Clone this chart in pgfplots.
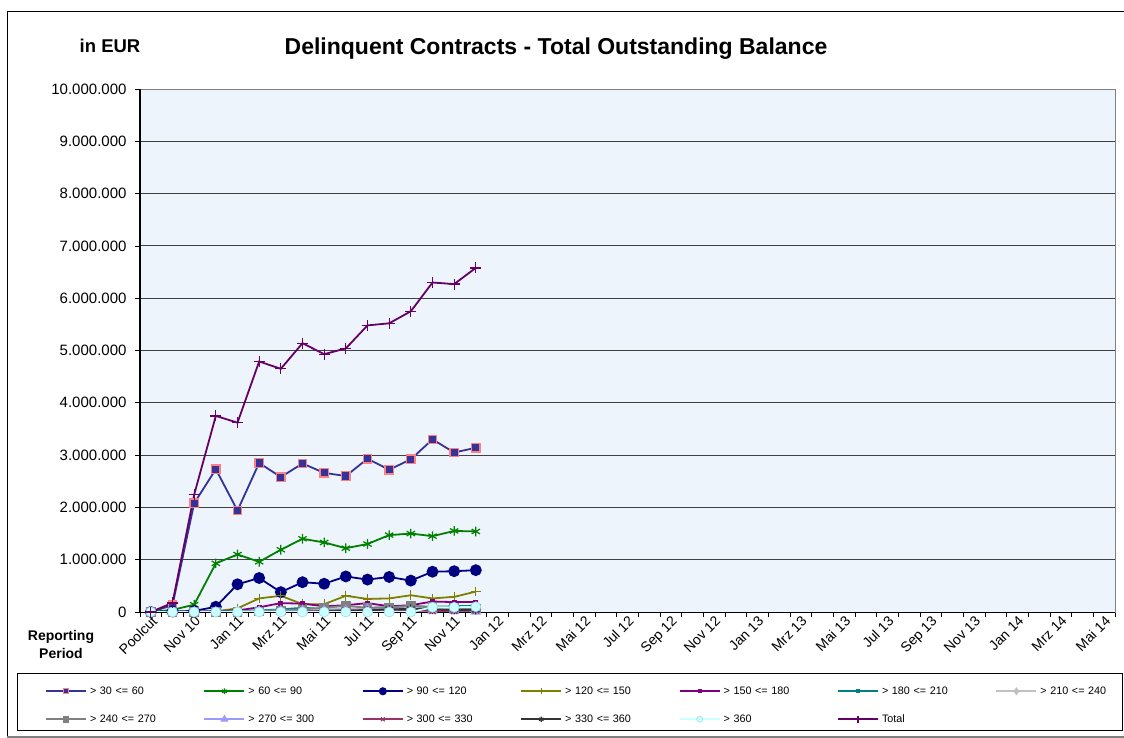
\documentclass[border=0pt]{standalone}
\usepackage{pgfplots}
\pgfplotsset{compat=1.18}
\usepackage{pgfplotstable}
\usepackage{fontspec}
\setmainfont{Liberation Sans}
\definecolor{bgblue}{RGB}{237,244,251}
\definecolor{cA}{HTML}{333399}
\definecolor{cAb}{HTML}{FF8080}
\definecolor{cB}{HTML}{008000}
\definecolor{cC}{HTML}{000080}
\definecolor{cD}{HTML}{808000}
\definecolor{cE}{HTML}{800080}
\definecolor{cF}{HTML}{008080}
\definecolor{cG}{HTML}{C0C0C0}
\definecolor{cH}{HTML}{808080}
\definecolor{cI}{HTML}{9999FF}
\definecolor{cJ}{HTML}{993366}
\definecolor{cK}{HTML}{333333}
\definecolor{cL}{HTML}{CCFFFF}
\definecolor{cLb}{HTML}{99DDEE}
\definecolor{cT}{HTML}{660066}

\pgfplotstableread{
idx s1 s2 s3 s4 s5 s6 s7 s8 s9 s10 s11 s12 tot
0 0 0 0 0 0 0 0 0 0 0 0 0 0
1 130000 40000 10000 0 0 0 0 0 0 0 0 0 175000
2 2080000 140000 20000 0 5000 0 0 0 0 0 0 0 2245000
3 2730000 930000 100000 10000 20000 10000 0 0 0 0 0 0 3750000
4 1940000 1100000 530000 70000 30000 20000 10000 0 0 0 0 0 3620000
5 2850000 960000 650000 260000 90000 30000 20000 10000 0 0 0 0 4790000
6 2580000 1190000 380000 310000 170000 50000 30000 30000 10000 0 0 0 4650000
7 2840000 1400000 570000 150000 160000 80000 40000 50000 20000 10000 0 0 5140000
8 2660000 1330000 540000 150000 110000 60000 60000 80000 20000 20000 10000 0 4930000
9 2600000 1220000 680000 310000 130000 50000 70000 120000 30000 30000 20000 0 5040000
10 2930000 1300000 620000 250000 170000 80000 50000 80000 50000 40000 30000 0 5480000
11 2720000 1470000 670000 260000 110000 90000 60000 90000 40000 50000 50000 0 5520000
12 2920000 1500000 600000 320000 130000 70000 80000 120000 30000 30000 60000 0 5750000
13 3300000 1450000 770000 260000 200000 100000 60000 100000 30000 20000 50000 90000 6300000
14 3050000 1550000 780000 290000 190000 110000 70000 80000 20000 20000 40000 90000 6270000
15 3140000 1540000 800000 390000 190000 120000 60000 70000 10000 30000 40000 100000 6580000
}\datatable

\begin{document}
\begin{tikzpicture}
\useasboundingbox (0pt,0pt) rectangle (1124pt,-738pt);
\fill[white] (0pt,0pt) rectangle (1124pt,-738pt);
\draw[black, line width=1pt] (7pt,-736pt) -- (7pt,-12pt) -- (1124pt,-12pt);
\draw[gray, line width=2pt] (7pt,-736.5pt) -- (1124pt,-736.5pt);
\draw[black, line width=1pt] (17pt,-673pt) rectangle (1122.5pt,-730pt);
\node[font=\bfseries\fontsize{23}{26}\selectfont] at (556pt,-49pt) {Delinquent Contracts - Total Outstanding Balance};
\node[font=\bfseries\fontsize{18.5}{21}\selectfont] at (110pt,-46pt) {in EUR};
\node[font=\bfseries\fontsize{14}{18}\selectfont, align=center] at (61pt,-644pt) {Reporting\\Period};
\begin{axis}[
  at={(140pt,-612pt)}, anchor=south west,
  scale only axis, width=975pt, height=523pt,
  xmin=-0.5, xmax=44.5, ymin=0, ymax=10000000,
  axis background/.style={fill=bgblue},
  axis line style={draw=gray, line width=1pt},
  ytick={0,1000000,2000000,3000000,4000000,5000000,6000000,7000000,8000000,9000000,10000000},
  ymajorgrids, grid style={black!75, line width=0.9pt},
  scaled y ticks=false,
  /pgf/number format/assume math mode=true,
  yticklabel style={font=\fontsize{15}{18}\selectfont, xshift=-5pt, /pgf/number format/fixed, /pgf/number format/precision=0, /pgf/number format/1000 sep={.}},
  tick align=outside, major tick length=5pt, tick style={black, line width=0.8pt},
  tick pos=left,
  xtick={-0.5,0.5,...,44.5}, xticklabels={},
  extra x ticks={0,2,...,44},
  extra x tick labels={Poolcut,Nov 10,Jan 11,Mrz 11,Mai 11,Jul 11,Sep 11,Nov 11,Jan 12,Mrz 12,Mai 12,Jul 12,Sep 12,Nov 12,Jan 13,Mrz 13,Mai 13,Jul 13,Sep 13,Nov 13,Jan 14,Mrz 14,Mai 14},
  extra x tick style={major tick length=0pt},
  xticklabel style={font=\fontsize{14}{16}\selectfont, rotate=45, anchor=north east, inner sep=2pt},
  clip=false,
  legend image code/.code={\draw[mark repeat=2,mark phase=2,#1, line width=2pt, every mark/.append style={scale=0.6}] plot coordinates {(0pt,0pt) (20pt,0pt) (40pt,0pt)};},
  legend columns=7,
  legend cell align=left,
  legend style={at={(-0.0974,-0.1396)}, anchor=north west, draw=none, fill=none, inner sep=0pt, outer sep=0pt, row sep=15.5pt,
    nodes={font=\fontsize{10.8}{13}\selectfont, text width=109.4pt, inner sep=1pt, text height=8pt, text depth=2.5pt, align=left},
    /tikz/every odd column/.append style={column sep=2pt},
    /tikz/every even column/.append style={column sep=3pt}},
]
\addplot[cA, line width=1.8pt, mark=square*, mark size=4.2pt, mark options={fill=cA, draw=cAb, line width=1.3pt}] table[x=idx, y=s1] {\datatable};
\addlegendentry{> 30 <= 60}
\addplot[cB, line width=1.8pt, mark=asterisk, mark size=4.8pt, mark options={line width=1.2pt}] table[x=idx, y=s2] {\datatable};
\addlegendentry{> 60 <= 90}
\addplot[cC, line width=1.8pt, mark=*, mark size=5pt] table[x=idx, y=s3] {\datatable};
\addlegendentry{> 90 <= 120}
\addplot[cD, line width=1.8pt, mark=+, mark size=4.8pt, mark options={line width=1.2pt}] table[x=idx, y=s4] {\datatable};
\addlegendentry{> 120 <= 150}
\addplot[cE, line width=1.8pt, mark=square*, mark size=1.6pt] table[x=idx, y=s5] {\datatable};
\addlegendentry{> 150 <= 180}
\addplot[cF, line width=1.8pt, mark=square*, mark size=1.6pt] table[x=idx, y=s6] {\datatable};
\addlegendentry{> 180 <= 210}
\addplot[cG, line width=1.8pt, mark=diamond*, mark size=4pt] table[x=idx, y=s7] {\datatable};
\addlegendentry{> 210 <= 240}
\addplot[cH, line width=1.8pt, mark=square*, mark size=3.8pt] table[x=idx, y=s8] {\datatable};
\addlegendentry{> 240 <= 270}
\addplot[cI, line width=1.8pt, mark=triangle*, mark size=4.4pt] table[x=idx, y=s9] {\datatable};
\addlegendentry{> 270 <= 300}
\addplot[cJ, line width=1.8pt, mark=x, mark size=4.4pt, mark options={line width=1.2pt}] table[x=idx, y=s10] {\datatable};
\addlegendentry{> 300 <= 330}
\addplot[cK, line width=1.8pt, mark=asterisk, mark size=4.4pt, mark options={line width=1.2pt}] table[x=idx, y=s11] {\datatable};
\addlegendentry{> 330 <= 360}
\addplot[cL, line width=1.8pt, mark=*, mark size=5pt, mark options={fill=cL, draw=cLb, line width=0.6pt}] table[x=idx, y=s12] {\datatable};
\addlegendentry{> 360}
\addplot[cT, line width=1.8pt, mark=+, mark size=5.5pt, mark options={line width=1.3pt}] table[x=idx, y=tot] {\datatable};
\addlegendentry{Total}
\draw[black, line width=1.6pt] (rel axis cs:0,0) -- (rel axis cs:0,1);
\draw[black, line width=1pt] (rel axis cs:0,0) -- (rel axis cs:1,0);
\end{axis}
\end{tikzpicture}
\end{document}
